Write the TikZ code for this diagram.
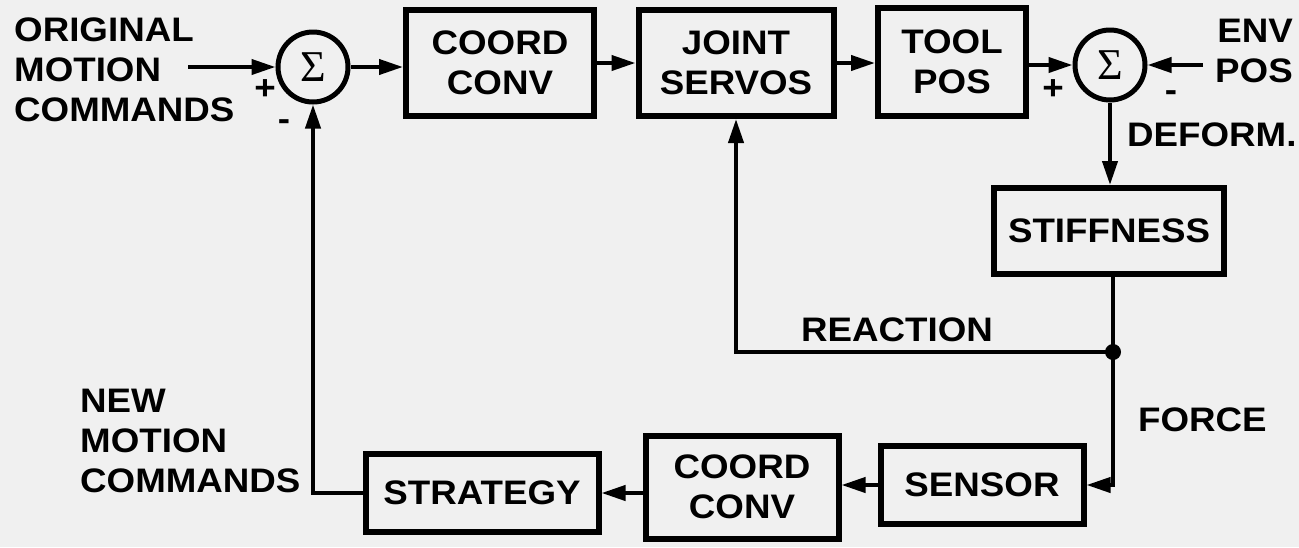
\documentclass[tikz,border=0pt]{standalone}
\usepackage{fontspec}
\setmainfont{Liberation Sans}[FakeStretch=1.08]
\newfontfamily\sigfont{Liberation Serif}
\usetikzlibrary{arrows.meta}
\definecolor{bgc}{RGB}{240,240,240}
\newcommand{\lblfont}{\bfseries\fontsize{34}{40}\selectfont}
\begin{document}
\begin{tikzpicture}[x=1pt,y=-1pt,
  blockbox/.style={draw, line width=6pt, font=\lblfont, align=center, inner sep=0pt},
  sumnode/.style={draw, circle, line width=5pt, minimum size=70pt, inner sep=0pt, font=\sigfont\fontsize{44}{44}\selectfont},
  conn/.style={line width=4pt},
  arr/.style={conn, -{Triangle[length=24pt,width=15pt]}},
  txt/.style={font=\lblfont, inner sep=0pt},
]
\fill[bgc] (0,0) rectangle (1299,547);
\useasboundingbox (0,0) rectangle (1299,547);

% blocks
\node[blockbox, minimum width=188pt, minimum height=106pt] (cc1) at (500,63) {COORD\\CONV};
\node[blockbox, minimum width=195pt, minimum height=106pt] (js) at (736,63) {JOINT\\SERVOS};
\node[blockbox, minimum width=148pt, minimum height=108pt] (tp) at (952,62) {TOOL\\POS};
\node[sumnode] (s1) at (313,67) {Σ};
\node[sumnode] (s2) at (1110,65) {Σ};
\node[blockbox, minimum width=230pt, minimum height=86pt] (stiff) at (1109,231) {STIFFNESS};
\node[blockbox, minimum width=203pt, minimum height=78pt] (sensor) at (982,485) {SENSOR};
\node[blockbox, minimum width=193pt, minimum height=103pt] (cc2) at (742,487) {COORD\\CONV};
\node[blockbox, minimum width=233pt, minimum height=78pt] (strat) at (482,493) {STRATEGY};

% texts
\node[txt, anchor=west, align=left] (orig) at (14,70) {ORIGINAL\\MOTION\\COMMANDS};
\node[txt, anchor=west, align=left] (newc) at (80,441) {NEW\\MOTION\\COMMANDS};
\node[txt, align=right] (env) at (1254,51) {ENV\\POS};
\node[txt, anchor=west] (deform) at (1127,135) {DEFORM.};
\node[txt] (react) at (897,330) {REACTION};
\node[txt, anchor=west] (force) at (1138,420) {FORCE};
\node[txt] (p1) at (265,90) {+};
\node[txt] (m1) at (284,125) {-};
\node[txt] (p2) at (1053,90) {+};
\node[txt] (m2) at (1171,96) {-};

% coordinates
\coordinate (in1) at (188,67);
\coordinate (envin) at (1203,65);
\coordinate (dot) at (1113,352);

% connectors
\draw[arr] (in1) -- (s1.west);
\draw[arr] (s1.east) -- (cc1.west |- s1.east);
\draw[arr] (cc1.east) -- (js.west |- cc1.east);
\draw[arr] (js.east) -- (tp.west |- js.east);
\draw[arr] (tp.east |- s2.west) -- (s2.west);
\draw[arr] (envin) -- (s2.east);
\draw[arr] (s2.south) -- (stiff.north -| s2.south);
\draw[conn] (stiff.south -| dot) -- (dot);
\draw[arr] (dot) -- (js.south |- dot) -- (js.south);
\draw[arr] (dot) |- (sensor.east);
\draw[arr] (sensor.west) -- (cc2.east |- sensor.west);
\draw[arr] (cc2.west |- strat.east) -- (strat.east);
\draw[arr] (strat.west) -| (s1.south);
\fill (dot) circle (8pt);
\end{tikzpicture}
\end{document}
